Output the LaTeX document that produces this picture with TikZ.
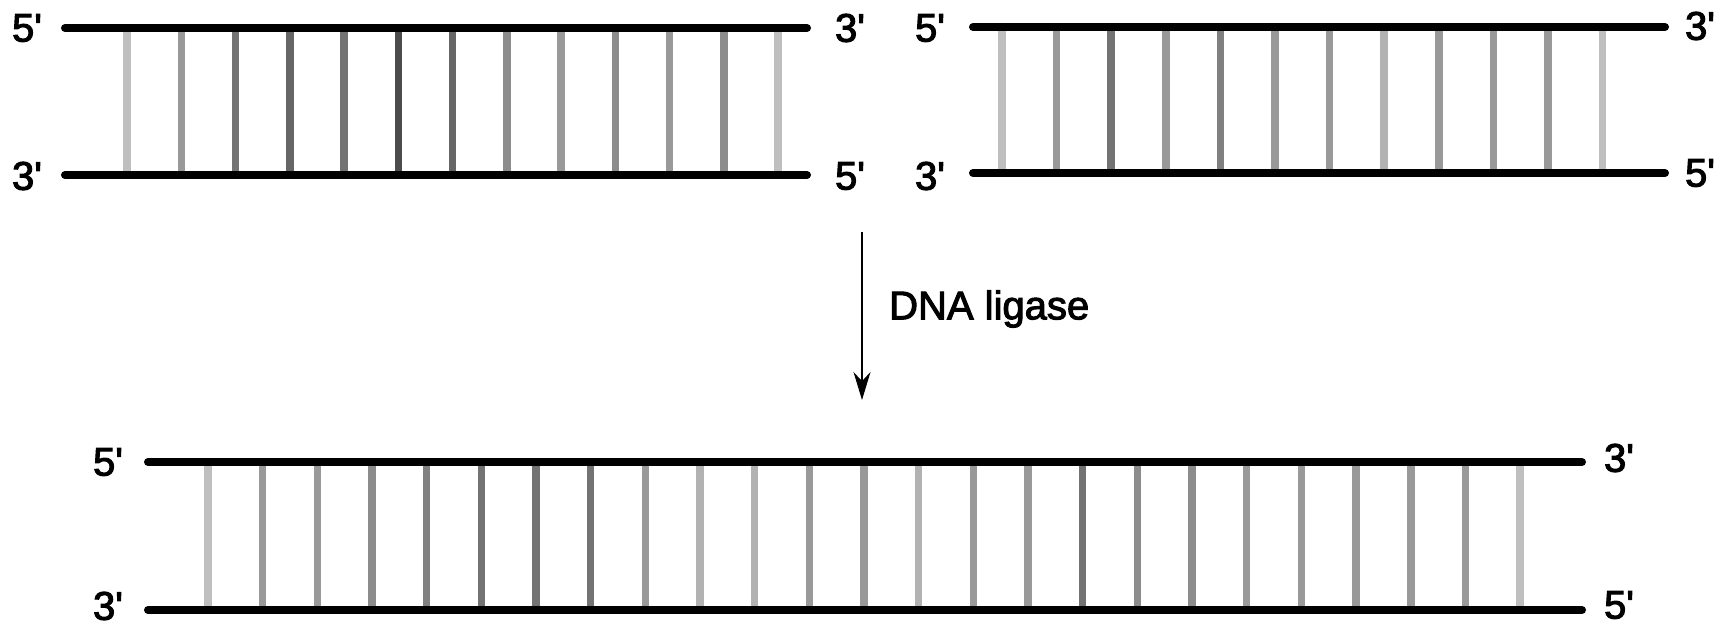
\documentclass[tikz,border=0pt]{standalone}
\usepackage{fontspec}
\setmainfont{Liberation Sans}
\newfontfamily\lblfont{Liberation Sans}[FakeBold=2.5]
\usetikzlibrary{arrows.meta}
\begin{document}
\begin{tikzpicture}[x=1pt,y=-1pt,
  strand/.style={line width=8pt,line cap=round,black},
  rung/.style={line width=7.5pt},
  endlabel/.style={font=\lblfont\fontsize{40}{40}\selectfont,inner sep=0pt},
  enzymelabel/.style={font=\lblfont\fontsize{40}{40}\selectfont,inner sep=0pt,anchor=west}]
\useasboundingbox (0,0) rectangle (1735,627);
% ---- top-left duplex ----
\coordinate (tl1) at (65,28);  \coordinate (tl2) at (807,28);
\coordinate (tl3) at (65,175); \coordinate (tl4) at (807,175);
\foreach \s [count=\i from 0] in {25,40,55,60,55,70,60,45,40,45,40,45,25}
  \draw[rung,black!\s] (127+54.25*\i,30) -- (127+54.25*\i,173);
\draw[strand] (tl1) -- (tl2);
\draw[strand] (tl3) -- (tl4);
\node[endlabel] (tl5a) at (27,28) {5\textquotesingle};
\node[endlabel] (tl3a) at (27,176) {3\textquotesingle};
\node[endlabel] (tl3b) at (850,28) {3\textquotesingle};
\node[endlabel] (tl5b) at (850,176) {5\textquotesingle};
% ---- top-right duplex ----
\coordinate (tr1) at (973,27);  \coordinate (tr2) at (1665,27);
\coordinate (tr3) at (973,173); \coordinate (tr4) at (1665,173);
\foreach \s [count=\i from 0] in {25,40,55,40,50,40,40,30,40,40,40,25}
  \draw[rung,black!\s] (1002+54.6*\i,29) -- (1002+54.6*\i,171);
\draw[strand] (tr1) -- (tr2);
\draw[strand] (tr3) -- (tr4);
\node[endlabel] (tr5a) at (930,28) {5\textquotesingle};
\node[endlabel] (tr3a) at (930,176) {3\textquotesingle};
\node[endlabel] (tr3b) at (1700,26) {3\textquotesingle};
\node[endlabel] (tr5b) at (1700,173) {5\textquotesingle};
% ---- arrow ----
\coordinate (arA) at (862,232);
\coordinate (arB) at (862,400);
\draw[line width=1.8pt,-{Stealth[length=28pt,width=17pt]}] (arA) -- (arB);
\node[enzymelabel] (lig) at (889,309) {DNA ligase};
% ---- bottom duplex ----
\coordinate (b1) at (148,462);  \coordinate (b2) at (1582,462);
\coordinate (b3) at (148,610);  \coordinate (b4) at (1582,610);
\foreach \s [count=\i from 0] in {25,40,40,45,50,55,55,55,40,30,30,40,40,30,40,40,55,45,45,40,40,40,40,40,25}
  \draw[rung,black!\s] (208+54.67*\i,464) -- (208+54.67*\i,608);
\draw[strand] (b1) -- (b2);
\draw[strand] (b3) -- (b4);
\node[endlabel] (b5a) at (108,462) {5\textquotesingle};
\node[endlabel] (b3a) at (108,606) {3\textquotesingle};
\node[endlabel] (b3b) at (1619,458) {3\textquotesingle};
\node[endlabel] (b5b) at (1619,605) {5\textquotesingle};
\end{tikzpicture}
\end{document}
